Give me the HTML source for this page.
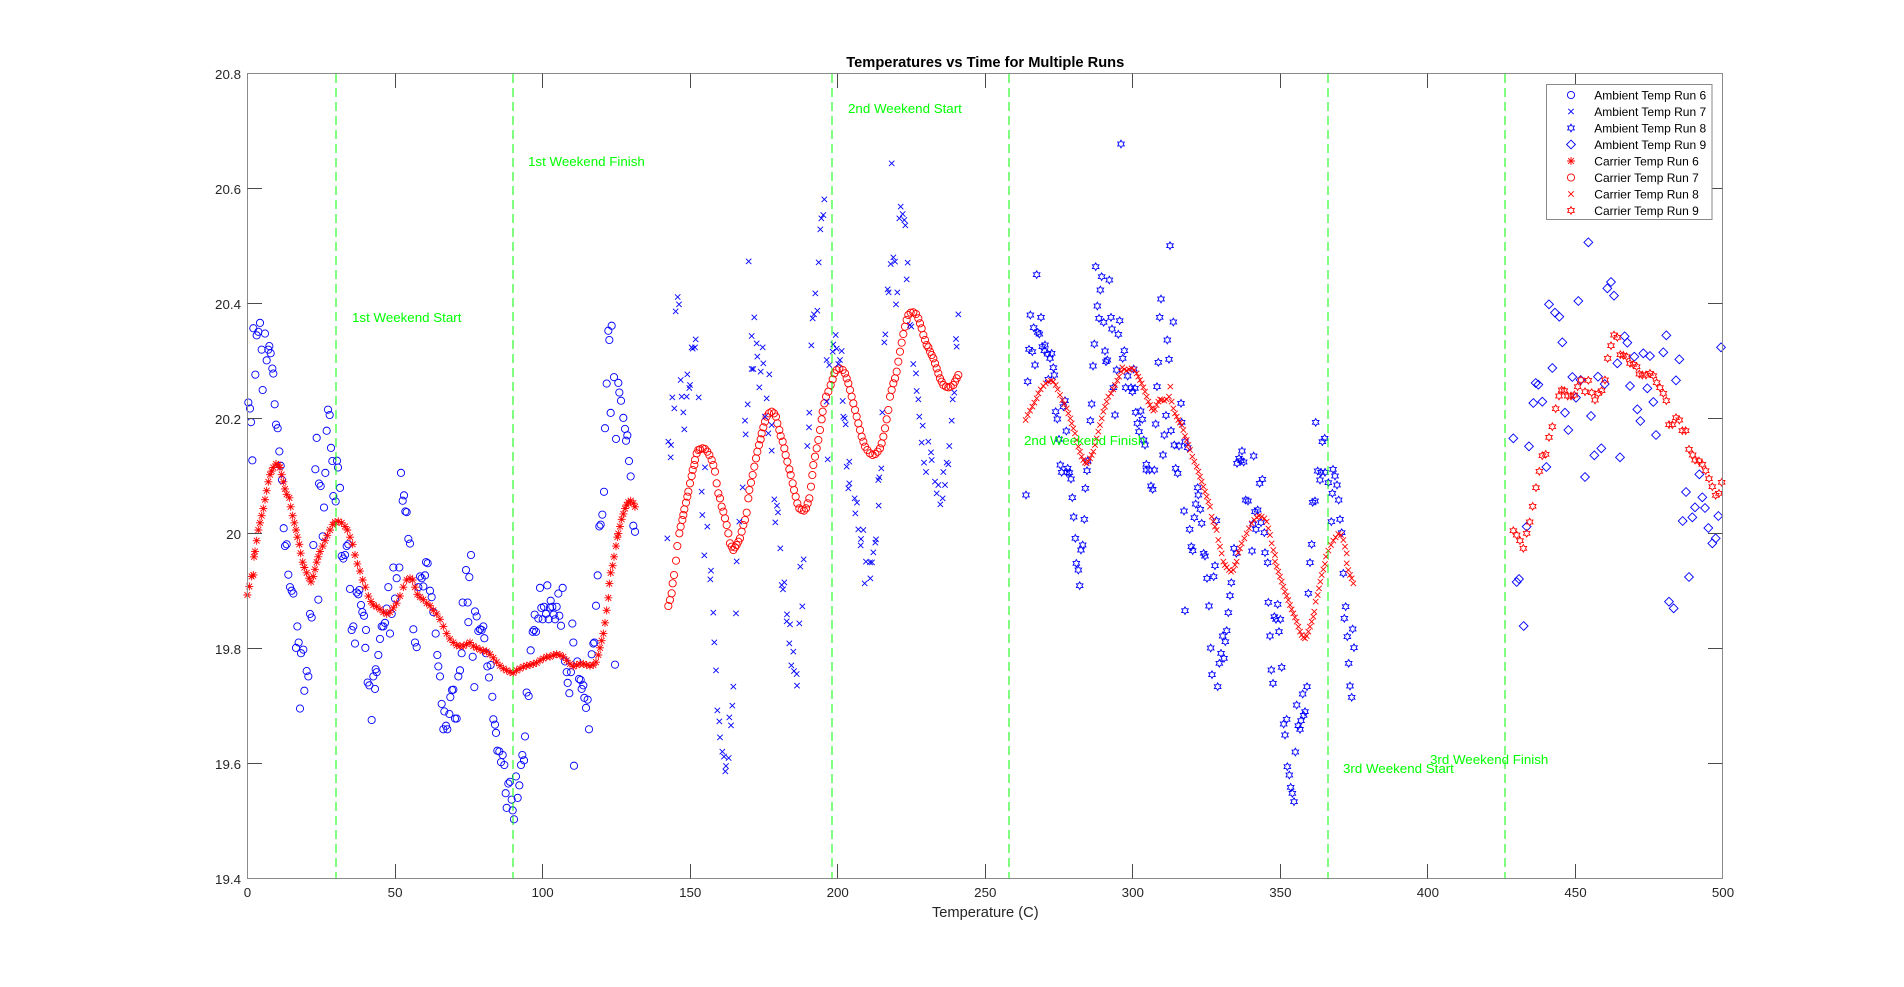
<!DOCTYPE html>
<html>
<head>
<meta charset="utf-8">
<style>
html,body{margin:0;padding:0;background:#fff;}
svg{display:block;}
text{font-family:"Liberation Sans",Arial,sans-serif;}
.p{fill:none;stroke:none;}
</style>
</head>
<body>
<svg width="1904" height="987" viewBox="0 0 1904 987" xmlns="http://www.w3.org/2000/svg">
<defs>
<!-- markers for zoom-4 group (scale 1/3, 1/2.8) -->
<marker id="astA" viewBox="-5 -5 10 10" markerWidth="30" markerHeight="28" markerUnits="userSpaceOnUse" refX="0" refY="0" preserveAspectRatio="none" overflow="visible">
<path d="M0,-4V4M-4,0H4M-2.9,-2.9L2.9,2.9M-2.9,2.9L2.9,-2.9" stroke="#ff0000" stroke-width="0.9" fill="none"/>
</marker>
<marker id="cirA" viewBox="-5 -5 10 10" markerWidth="30" markerHeight="28" markerUnits="userSpaceOnUse" refX="0" refY="0" preserveAspectRatio="none" overflow="visible">
<circle r="3.6" fill="none" stroke="#0000ff" stroke-width="0.9"/>
</marker>
<!-- markers for uniform 1/3 groups -->
<marker id="cirR" viewBox="-5 -5 10 10" markerWidth="30" markerHeight="30" markerUnits="userSpaceOnUse" refX="0" refY="0" preserveAspectRatio="none" overflow="visible">
<circle r="3.6" fill="none" stroke="#ff0000" stroke-width="0.9"/>
</marker>
<marker id="xB" viewBox="-5 -5 10 10" markerWidth="30" markerHeight="30" markerUnits="userSpaceOnUse" refX="0" refY="0" preserveAspectRatio="none" overflow="visible">
<path d="M-2.7,-2.7L2.7,2.7M-2.7,2.7L2.7,-2.7" stroke="#0000ff" stroke-width="0.9" fill="none"/>
</marker>
<marker id="xR" viewBox="-5 -5 10 10" markerWidth="30" markerHeight="30" markerUnits="userSpaceOnUse" refX="0" refY="0" preserveAspectRatio="none" overflow="visible">
<path d="M-2.7,-2.7L2.7,2.7M-2.7,2.7L2.7,-2.7" stroke="#ff0000" stroke-width="0.9" fill="none"/>
</marker>
<marker id="hexB" viewBox="-5 -5 10 10" markerWidth="30" markerHeight="30" markerUnits="userSpaceOnUse" refX="0" refY="0" preserveAspectRatio="none" overflow="visible">
<polygon points="0,-3.8 1.1,-1.9 3.29,-1.9 2.2,0 3.29,1.9 1.1,1.9 0,3.8 -1.1,1.9 -3.29,1.9 -2.2,0 -3.29,-1.9 -1.1,-1.9" fill="none" stroke="#0000ff" stroke-width="0.9"/>
</marker>
<marker id="hexR" viewBox="-5 -5 10 10" markerWidth="30" markerHeight="30" markerUnits="userSpaceOnUse" refX="0" refY="0" preserveAspectRatio="none" overflow="visible">
<polygon points="0,-3.8 1.1,-1.9 3.29,-1.9 2.2,0 3.29,1.9 1.1,1.9 0,3.8 -1.1,1.9 -3.29,1.9 -2.2,0 -3.29,-1.9 -1.1,-1.9" fill="none" stroke="#ff0000" stroke-width="0.9"/>
</marker>
<marker id="diaB" viewBox="-5 -5 10 10" markerWidth="30" markerHeight="30" markerUnits="userSpaceOnUse" refX="0" refY="0" preserveAspectRatio="none" overflow="visible">
<path d="M0,-4.4L4.4,0L0,4.4L-4.4,0Z" fill="none" stroke="#0000ff" stroke-width="0.9"/>
</marker>
</defs>

<rect x="0" y="0" width="1904" height="987" fill="#ffffff"/>

<!-- ===== Run 6 (zoom-4 frame) ===== -->
<g transform="translate(240,280) scale(0.333333,0.357143)">
<polyline class="p" marker-start="url(#cirA)" marker-mid="url(#cirA)" marker-end="url(#cirA)" points="25,343 30,360 33,398 37,505 40,135 46,265 50,155 55,145 60,120 65,195 68,308 75,150 80,225 85,195 88,185 92,205 97,248 100,262 104,348 108,405 113,415 118,480 122,520 126,560 131,695 135,745 140,740 145,825 150,860 155,870 160,878 168,1030 172,970 176,1015 183,1045 190,1035 193,1150 180,1200 200,1095 205,1110 210,935 215,945 220,742 226,530 230,442 235,895 237,570 242,577 248,718 252,637 256,540 260,422 264,363 269,378 273,470 277,507 280,605 287,620 291,506 294,525 300,582 305,773 310,780 315,770 320,745 325,740 330,865 335,980 340,970 345,1018 350,875 355,880 358,868 363,910 367,930 372,940 378,980 376,1030 383,1127 388,1135 395,1232 400,1110 405,1145 407,1090 410,1098 415,1050 420,1005 425,970 430,970 435,960 440,920 445,860 450,990 455,935 460,805 465,892 470,835 478,805 483,540 488,618 492,603 496,648 500,650 505,725 510,738 520,978 525,1015 530,1028 535,860 540,830 545,835 550,858 555,827 558,790 563,793 570,870 575,888 580,930 587,990 592,1050 595,1082 600,1110 605,1187 610,1258 613,1208 618,1248 622,1258 628,1215 631,1168 636,1148 640,1147 645,1228 650,1228 655,1110 660,1093 665,1045 668,903 678,812 683,903 688,832 685,958 693,770 698,1055 703,1140 705,928 710,942 715,983 720,978 725,980 730,970 733,1003 738,1045 742,1082 747,1113 752,1078 757,1167 760,1230 765,1245 768,1268 772,1318 778,1320 783,1350 788,1330 793,1358 797,1437 800,1478 805,1410 810,1405 815,1455 818,1485 822,1510 828,1390 833,1450 838,1415 843,1358 847,1330 852,1345 855,1278 860,1155 866,1165 872,1037 878,985 882,980 888,985 884,937 895,948 900,862 904,918 908,950 912,915 918,935 922,855 926,950 930,917 932,898 937,915 941,937 945,950 950,915 955,878 958,940 963,968 968,862 975,1068 980,1098 983,1128 988,1157 993,1098 997,962 1000,1015 1002,1360 1012,1068 1017,1117 1022,1120 1025,1145 1030,1135 1033,1170 1038,1198 1043,1175 1047,1258 1055,1048 1060,1018 1063,1015 1068,912 1073,827 1078,690 1082,685 1087,657 1092,593 1095,415 1100,290 1105,142 1108,168 1112,372 1115,128 1122,272 1128,445 1135,288 1138,315 1143,338 1150,386 1155,417 1158,450 1162,435 1167,507 1172,550 1125,1077 1180,688 1185,705"/>
<polyline class="p" marker-start="url(#astA)" marker-mid="url(#astA)" marker-end="url(#astA)" points="22,882 28,858 35,830 40,826 42,775 45,760 50,730 55,700 60,680 65,660 70,640 75,615 80,590 85,565 90,545 95,535 100,525 108,515 115,518 120,525 125,545 130,565 135,585 140,600 148,610 152,635 158,660 163,680 168,700 172,720 178,740 182,765 188,790 193,805 200,820 207,835 213,845 220,830 225,810 230,790 235,775 240,760 248,745 255,730 262,715 270,700 278,685 285,678 295,676 305,680 315,690 322,700 330,720 338,740 345,770 352,795 360,815 368,840 376,860 385,885 393,900 400,910 410,915 420,922 430,930 440,935 450,930 460,918 470,905 480,885 490,860 500,840 510,835 518,840 525,860 532,880 540,888 550,895 560,905 570,912 580,925 590,935 600,950 610,970 620,990 630,1005 640,1015 650,1023 660,1025 670,1025 680,1020 690,1015 700,1025 710,1030 720,1035 730,1038 740,1040 750,1048 760,1058 770,1070 780,1080 790,1088 800,1093 810,1098 820,1100 830,1093 840,1088 850,1083 860,1080 870,1078 880,1075 890,1072 900,1065 910,1060 920,1055 930,1055 940,1050 950,1048 960,1050 970,1055 980,1065 990,1075 1000,1082 1010,1078 1020,1075 1030,1075 1040,1078 1050,1080 1060,1078 1068,1070 1075,1050 1080,1030 1085,1010 1090,990 1095,960 1100,925 1105,890 1108,850 1112,820 1118,800 1122,775 1128,745 1132,720 1135,710 1140,690 1145,670 1150,655 1155,640 1160,630 1165,622 1172,618 1180,625 1185,635"/>
</g>

<!-- ===== Run 7 (zoom-5 frame) ===== -->
<g transform="translate(650,150) scale(0.333333)">
<polyline class="p" marker-start="url(#cirR)" marker-mid="url(#cirR)" marker-end="url(#cirR)" points="55,1368 60,1350 65,1330 68,1300 72,1275 78,1232 82,1188 88,1150 92,1130 97,1110 100,1095 103,1078 108,1058 112,1040 115,1025 120,1000 125,978 128,960 133,945 135,930 140,910 145,900 150,898 158,895 165,897 172,905 178,915 185,930 190,945 195,965 200,1000 205,1030 210,1045 215,1070 220,1085 225,1105 230,1125 235,1150 240,1180 245,1190 250,1200 255,1192 260,1185 265,1175 270,1165 275,1145 280,1125 285,1110 290,1088 295,1045 298,1020 303,998 308,975 313,950 318,925 322,905 327,885 332,868 335,850 340,832 345,815 350,800 357,790 365,785 372,790 378,800 382,820 388,840 392,858 398,875 403,895 407,915 412,935 418,958 422,975 428,1000 432,1020 437,1040 442,1060 448,1075 455,1080 462,1082 468,1075 473,1060 478,1045 483,1010 487,975 490,945 495,920 500,895 505,870 510,840 515,808 518,785 523,760 528,740 535,725 542,705 548,688 553,670 560,660 568,655 578,660 585,670 590,685 595,700 600,720 605,740 610,760 615,780 620,800 625,820 630,840 635,860 640,875 645,890 652,900 660,910 668,915 676,912 683,905 690,895 695,880 700,860 705,835 710,808 715,780 720,740 725,720 730,700 735,685 740,665 745,635 750,605 755,578 760,552 765,530 770,510 775,495 782,488 790,487 798,492 805,505 810,520 815,535 820,555 825,570 830,585 835,592 840,605 845,615 850,625 855,640 860,655 865,670 870,685 875,695 880,705 888,710 895,712 902,710 910,705 915,695 920,685 925,675"/>
<polyline class="p" marker-start="url(#xB)" marker-mid="url(#xB)" marker-end="url(#xB)" points="83,441 87,463 77,484 137,568 125,592 135,592 128,596 112,673 92,690 120,705 118,714 67,742 95,740 110,740 146,742 73,775 100,787 103,838 55,875 63,885 62,922 165,952 296,334 313,502 305,558 320,580 338,592 322,620 340,640 305,657 310,657 332,665 358,673 328,712 350,745 293,763 285,812 287,853 365,825 345,800 355,850 365,902 472,888 478,788 477,832 484,586 488,505 492,493 502,482 496,430 506,337 511,238 514,205 520,195 523,148 557,555 550,583 560,596 548,605 530,630 570,630 565,642 538,645 530,755 578,753 584,805 587,823 533,928 598,935 590,950 725,40 752,170 748,205 758,192 763,210 766,226 730,322 722,342 735,335 773,338 770,388 713,418 716,427 742,427 738,463 706,553 703,577 790,642 798,670 800,723 805,748 808,800 818,827 815,878 835,875 843,907 845,930 822,938 890,938 895,943 925,493 918,567 920,590 913,728 908,748 905,812 898,888 697,787 694,955 688,982 575,603 580,800 780,525 784,530 828,966 880,966"/>
</g>
<g transform="translate(650,480) scale(0.333333)">
<polyline class="p" marker-start="url(#xB)" marker-mid="url(#xB)" marker-end="url(#xB)" points="155,35 278,22 52,175 157,105 172,140 163,226 183,272 181,298 190,398 258,400 193,487 198,571 250,620 247,677 202,691 208,724 238,712 243,736 210,772 217,815 222,830 236,834 228,858 226,874 268,125 260,244 373,58 381,77 384,97 376,127 391,205 395,315 403,307 399,328 461,238 451,260 457,379 411,403 410,424 420,433 448,430 418,490 430,515 424,556 432,573 440,582 441,617 598,10 595,25 614,55 621,68 616,100 625,148 640,150 633,177 632,196 678,178 676,188 670,217 648,245 660,247 666,247 661,295 644,310 686,77 855,5 865,15 885,15 860,40 878,55 871,73 685,0"/>
</g>

<!-- ===== Run 8 (zoom-7/8 frames) ===== -->
<g transform="translate(1005,130) scale(0.333333)">
<polyline class="p" marker-start="url(#hexB)" marker-mid="url(#hexB)" marker-end="url(#hexB)" points="348,42 495,347 95,434 272,410 290,440 313,450 286,480 468,507 277,528 76,555 108,562 282,565 296,577 318,562 344,572 464,562 505,576 86,593 98,607 103,612 321,597 340,613 487,630 72,658 82,665 112,650 120,645 118,662 128,672 140,670 135,685 268,642 300,663 358,662 353,685 307,690 303,695 90,705 264,708 460,697 492,688 145,713 148,735 130,748 68,755 335,720 368,738 386,717 362,773 378,773 390,775 382,785 325,773 456,770 528,820 180,812 175,830 152,845 157,867 260,822 256,872 330,855 392,847 407,843 412,868 397,880 452,882 483,856 530,877 184,903 402,905 498,902 478,915 416,930 420,945 162,928 508,945 522,948 548,953 540,935 474,975 166,1005 170,1027 188,1015 185,1027 193,1028 198,1047 246,1022 248,993 424,1003 434,1020 424,1020 448,1020 438,1068 443,1078 512,1015 518,1030 63,1095 241,1075 202,1103 206,1161 238,1168 211,1225 233,1245 228,1260 578,1073 580,1095 572,1122 586,1138 537,1143 568,1163 590,1180 634,1172 554,1198 711,963 702,985 696,1000 708,992 716,996 746,978 772,1048 764,1060 722,1110 729,1113 758,1140 750,1145 768,1178 744,1182 753,1198 778,1208 687,1255 694,1270 741,1263 932,877 952,935 959,925 938,1023 948,1027 945,1050 960,1027 923,1117 930,1113 984,1018 990,1038 996,1065 970,1058 982,1090 1001,1110 979,1175 1005,1168 1010,1208 920,1243 559,1250 563,1262 596,1270 600,1278 780,1268"/>
<polyline class="p" marker-start="url(#xR)" marker-mid="url(#xR)" marker-end="url(#xR)" points="62,870 68,855 75,842 82,830 88,818 95,805 100,790 107,778 115,768 122,760 130,755 138,752 145,755 152,765 158,778 165,795 172,810 178,822 185,835 190,850 196,865 200,880 205,895 210,910 215,930 220,950 225,965 230,980 235,990 240,998 245,1000 250,995 255,985 260,975 265,965 270,945 275,925 280,905 285,885 290,865 295,845 300,830 305,815 310,800 318,790 325,778 330,765 337,752 342,740 348,725 352,712 358,718 365,722 372,718 380,715 388,720 395,730 400,740 405,750 410,760 415,772 420,785 425,800 430,815 435,825 440,835 445,842 450,838 455,825 460,815 465,808 470,810 478,812 485,808 492,800 496,770 500,815 505,835 510,850 515,860 520,870 525,878 530,885 535,900 540,918 545,930 550,945 555,960 562,980 568,995 575,1010 580,1025 585,1040 590,1055 595,1070 600,1085 605,1100 610,1115 615,1130 620,1160 625,1175 630,1190 635,1200 640,1230 645,1250 650,1270 700,1268 705,1255 710,1240 718,1225 725,1210 732,1195 740,1180 748,1170 755,1162 762,1158 770,1160 778,1165 785,1175 790,1195 795,1215 800,1240 805,1260 810,1275 963,1280 970,1262 978,1245 985,1232 992,1222 1000,1212 1008,1215 1015,1230 1020,1250 1025,1270"/>
</g>
<g transform="translate(1005,560) scale(0.333333)">
<polyline class="p" marker-start="url(#hexB)" marker-mid="url(#hexB)" marker-end="url(#hexB)" points="214,10 220,30 224,77 540,152 612,138 630,17 606,55 626,50 679,68 675,107 670,158 665,212 653,228 661,245 617,264 648,280 657,295 643,310 621,344 638,380 788,8 915,8 790,127 818,133 808,170 813,178 826,178 822,215 795,228 910,100 799,330 830,322 804,370 906,380 893,402 875,435 900,455 896,466 888,482 845,478 836,492 880,497 885,508 840,525 871,576 847,620 853,645 857,682 862,700 867,725 1015,40 1022,140 1018,175 1027,230 1043,207 1047,263 1031,310 1035,378 1040,412"/>
<polyline class="p" marker-start="url(#xR)" marker-mid="url(#xR)" marker-end="url(#xR)" points="655,5 660,15 665,22 672,30 678,35 685,30 690,15 695,5 810,5 815,20 820,35 825,50 830,65 835,80 840,95 845,108 850,120 855,135 860,148 865,160 870,172 875,185 880,200 885,215 890,225 895,232 900,235 905,228 910,215 915,200 920,185 925,170 928,155 932,125 938,105 942,85 946,65 950,45 955,28 960,12 1025,10 1030,30 1035,45 1040,55 1045,70"/>
</g>

<!-- ===== Run 9 (zoom-9 frame) ===== -->
<g transform="translate(1495,220) scale(0.333333)">
<polyline class="p" marker-start="url(#diaB)" marker-mid="url(#diaB)" marker-end="url(#diaB)" points="280,67 348,186 337,205 357,227 162,253 180,278 193,290 250,243 202,367 389,349 397,368 514,346 678,382 172,444 367,430 418,410 445,400 465,408 505,397 553,418 232,471 309,470 329,492 405,498 457,505 543,481 122,489 130,494 115,549 142,545 243,533 257,480 210,578 288,588 475,546 427,568 436,603 220,630 483,645 55,655 102,679 298,706 319,685 375,712 154,741 270,771 613,763 573,816 622,832 600,862 630,864 592,892 563,903 670,888 640,924 95,920 662,955 652,970 65,1086 72,1077 582,1071 522,1145 536,1165 86,1218"/>
<polyline class="p" marker-start="url(#hexR)" marker-mid="url(#hexR)" marker-end="url(#hexR)" points="55,932 65,945 75,962 85,985 95,940 104,906 113,859 123,803 133,754 142,707 152,703 162,652 172,620 182,566 192,528 200,510 208,512 218,528 228,528 238,525 248,500 258,480 270,515 280,481 290,518 300,540 310,520 320,512 330,480 338,415 348,377 357,345 367,352 376,404 385,406 395,410 405,430 415,433 425,440 433,462 442,465 453,465 465,460 475,467 485,488 495,503 505,520 514,542 522,614 532,614 543,593 553,600 562,632 572,632 582,688 593,705 600,720 612,723 622,733 632,752 642,776 652,800 662,826 672,820 680,787"/>
</g>

<!-- ===== green dashed lines ===== -->
<g stroke="#00ff00" stroke-width="1" stroke-dasharray="9,5" fill="none">
<line x1="336" y1="74" x2="336" y2="878"/>
<line x1="513" y1="74" x2="513" y2="878"/>
<line x1="832" y1="74" x2="832" y2="878"/>
<line x1="1009" y1="74" x2="1009" y2="878"/>
<line x1="1328" y1="74" x2="1328" y2="878"/>
<line x1="1505" y1="74" x2="1505" y2="878"/>
</g>
<g fill="#00ff00" font-size="13.33">
<text x="352" y="322">1st Weekend Start</text>
<text x="528" y="166">1st Weekend Finish</text>
<text x="848" y="113">2nd Weekend Start</text>
<text x="1024" y="445">2nd Weekend Finish</text>
<text x="1343" y="773">3rd Weekend Start</text>
<text x="1430" y="764">3rd Weekend Finish</text>
</g>

<!-- ===== axes ===== -->
<rect x="247.5" y="73.5" width="1475" height="805" fill="none" stroke="#8a8a8a" stroke-width="1"/>
<g stroke="#4a4a4a" stroke-width="1" fill="none">
<path d="M395.5,878.5V864M542.5,878.5V864M690.5,878.5V864M837.5,878.5V864M985.5,878.5V864M1132.5,878.5V864M1280.5,878.5V864M1427.5,878.5V864M1575.5,878.5V864"/>
<path d="M395.5,73.5V88M542.5,73.5V88M690.5,73.5V88M837.5,73.5V88M985.5,73.5V88M1132.5,73.5V88M1280.5,73.5V88M1427.5,73.5V88M1575.5,73.5V88"/>
<path d="M247.5,188.5H262M247.5,303.5H262M247.5,418.5H262M247.5,533.5H262M247.5,648.5H262M247.5,763.5H262"/>
<path d="M1722.5,188.5H1708M1722.5,303.5H1708M1722.5,418.5H1708M1722.5,533.5H1708M1722.5,648.5H1708M1722.5,763.5H1708"/>
</g>
<g fill="#262626" font-size="13.33" text-anchor="end">
<text x="241" y="79">20.8</text>
<text x="241" y="194">20.6</text>
<text x="241" y="309">20.4</text>
<text x="241" y="424">20.2</text>
<text x="241" y="539">20</text>
<text x="241" y="654">19.8</text>
<text x="241" y="769">19.6</text>
<text x="241" y="884">19.4</text>
</g>
<g fill="#262626" font-size="13.33" text-anchor="middle">
<text x="247.5" y="897">0</text>
<text x="395.1" y="897">50</text>
<text x="542.6" y="897">100</text>
<text x="690.2" y="897">150</text>
<text x="837.7" y="897">200</text>
<text x="985.3" y="897">250</text>
<text x="1132.8" y="897">300</text>
<text x="1280.4" y="897">350</text>
<text x="1427.9" y="897">400</text>
<text x="1575.5" y="897">450</text>
<text x="1723" y="897">500</text>
</g>
<text x="985.3" y="917" font-size="14.67" fill="#262626" text-anchor="middle">Temperature (C)</text>
<text x="985.3" y="67" font-size="14.67" font-weight="bold" fill="#000" text-anchor="middle">Temperatures vs Time for Multiple Runs</text>

<!-- ===== legend ===== -->
<rect x="1546.5" y="84.5" width="165.5" height="135" fill="#ffffff" stroke="#8a8a8a" stroke-width="1"/>
<g fill="none" stroke-width="0.9">
<circle cx="1571" cy="95" r="3.6" stroke="#0000ff"/>
<path transform="translate(1571,111.5)" d="M-2.7,-2.7L2.7,2.7M-2.7,2.7L2.7,-2.7" stroke="#0000ff"/>
<polygon transform="translate(1571,128)" points="0,-3.8 1.1,-1.9 3.29,-1.9 2.2,0 3.29,1.9 1.1,1.9 0,3.8 -1.1,1.9 -3.29,1.9 -2.2,0 -3.29,-1.9 -1.1,-1.9" stroke="#0000ff"/>
<path transform="translate(1571,144.5)" d="M0,-4.4L4.4,0L0,4.4L-4.4,0Z" stroke="#0000ff"/>
<path transform="translate(1571,161)" d="M0,-4V4M-4,0H4M-2.9,-2.9L2.9,2.9M-2.9,2.9L2.9,-2.9" stroke="#ff0000"/>
<circle cx="1571" cy="177.5" r="3.6" stroke="#ff0000"/>
<path transform="translate(1571,194)" d="M-2.7,-2.7L2.7,2.7M-2.7,2.7L2.7,-2.7" stroke="#ff0000"/>
<polygon transform="translate(1571,210.5)" points="0,-3.8 1.1,-1.9 3.29,-1.9 2.2,0 3.29,1.9 1.1,1.9 0,3.8 -1.1,1.9 -3.29,1.9 -2.2,0 -3.29,-1.9 -1.1,-1.9" stroke="#ff0000"/>
</g>
<g fill="#000" font-size="12">
<text x="1594.3" y="99.3">Ambient Temp Run 6</text>
<text x="1594.3" y="115.8">Ambient Temp Run 7</text>
<text x="1594.3" y="132.3">Ambient Temp Run 8</text>
<text x="1594.3" y="148.8">Ambient Temp Run 9</text>
<text x="1594.3" y="165.3">Carrier Temp Run 6</text>
<text x="1594.3" y="181.8">Carrier Temp Run 7</text>
<text x="1594.3" y="198.3">Carrier Temp Run 8</text>
<text x="1594.3" y="214.8">Carrier Temp Run 9</text>
</g>
</svg>
</body>
</html>
